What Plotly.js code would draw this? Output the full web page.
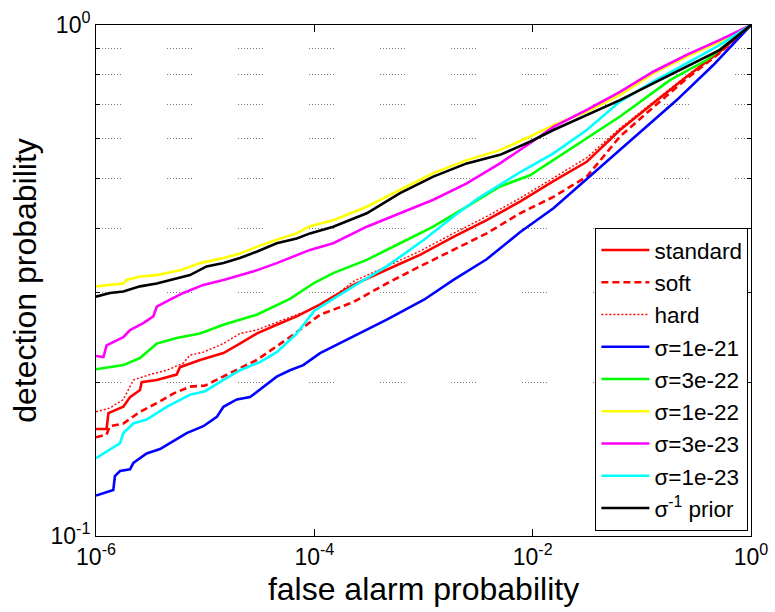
<!DOCTYPE html>
<html>
<head>
<meta charset="utf-8">
<script src="https://cdn.plot.ly/plotly-3.0.1.min.js"></script>
<style>html,body{margin:0;padding:0;background:#fff;}#chart{width:775px;height:612px;}</style>
</head>
<body>
<div id="chart"></div>
<script>
var seriesNames = ['standard', 'soft', 'hard', 'σ=1e-21', 'σ=3e-22', 'σ=1e-22', 'σ=3e-23', 'σ=1e-23', 'σ<sup>-1</sup> prior'];

// standard (red solid)
var standardX = [1e-6, 1.25e-6, 1.30e-6, 1.78e-6, 2.05e-6, 2.53e-6, 2.62e-6, 3.60e-6, 5.48e-6, 5.88e-6, 8.97e-6, 1.47e-5, 2.08e-5, 2.96e-5, 4.52e-5, 6.89e-5, 1.13e-4, 2.28e-4, 4.60e-4, 9.29e-4, 1.88e-3, 3.79e-3, 7.65e-3, 1.55e-2, 3.13e-2, 6.31e-2, 0.127, 0.257, 0.520, 1];
var standardY = [0.162, 0.162, 0.174, 0.179, 0.187, 0.193, 0.200, 0.202, 0.207, 0.214, 0.221, 0.228, 0.238, 0.249, 0.259, 0.269, 0.284, 0.310, 0.332, 0.355, 0.385, 0.415, 0.451, 0.495, 0.540, 0.623, 0.703, 0.792, 0.887, 1.0];

// soft (red dashed)
var softX = [1e-6, 1.25e-6, 1.34e-6, 1.78e-6, 2.53e-6, 3.60e-6, 5.10e-6, 7.26e-6, 1e-5, 1.47e-5, 2.96e-5, 5.98e-5, 1.13e-4, 2.28e-4, 4.60e-4, 9.29e-4, 1.88e-3, 3.79e-3, 7.65e-3, 1.55e-2, 3.13e-2, 6.31e-2, 0.127, 0.257, 0.520, 1];
var softY = [0.156, 0.158, 0.164, 0.166, 0.175, 0.182, 0.190, 0.196, 0.197, 0.205, 0.221, 0.245, 0.271, 0.287, 0.312, 0.337, 0.363, 0.391, 0.428, 0.461, 0.505, 0.605, 0.690, 0.785, 0.882, 1.0];

// hard (red dotted)
var hardX = [1e-6, 1.34e-6, 1.78e-6, 2.20e-6, 3.13e-6, 4.44e-6, 6.31e-6, 7.26e-6, 9.62e-6, 1.47e-5, 2.08e-5, 2.96e-5, 5.20e-5, 9.12e-5, 1.39e-4, 2.28e-4, 4.60e-4, 9.29e-4, 1.88e-3, 3.79e-3, 7.65e-3, 1.55e-2, 3.13e-2, 6.31e-2, 0.127, 0.257, 0.520, 1];
var hardY = [0.175, 0.178, 0.185, 0.202, 0.207, 0.211, 0.218, 0.226, 0.229, 0.238, 0.249, 0.253, 0.265, 0.277, 0.290, 0.315, 0.337, 0.361, 0.391, 0.422, 0.458, 0.503, 0.550, 0.628, 0.707, 0.795, 0.888, 1.0];

// sigma = 1e-21 (blue)
var sig1e21X = [1e-6, 1.44e-6, 1.49e-6, 1.66e-6, 2.05e-6, 2.20e-6, 2.91e-6, 3.86e-6, 4.76e-6, 6.77e-6, 9.62e-6, 1.28e-5, 1.47e-5, 1.95e-5, 2.58e-5, 3.41e-5, 4.52e-5, 5.98e-5, 7.92e-5, 1.13e-4, 4.61e-4, 1.01e-3, 1.88e-3, 3.79e-3, 7.65e-3, 1.55e-2, 3.13e-2, 4.44e-2, 0.1, 0.209, 0.452, 1];
var sig1e21Y = [0.120, 0.123, 0.131, 0.134, 0.135, 0.139, 0.145, 0.148, 0.152, 0.159, 0.164, 0.171, 0.179, 0.185, 0.187, 0.196, 0.205, 0.211, 0.216, 0.228, 0.265, 0.290, 0.317, 0.348, 0.393, 0.438, 0.500, 0.533, 0.620, 0.713, 0.835, 1.0];

// sigma = 3e-22 (green)
var sig3e22X = [1e-6, 1.78e-6, 2.53e-6, 3.60e-6, 5.48e-6, 8.97e-6, 1.47e-5, 2.96e-5, 5.98e-5, 1.0e-4, 1.49e-4, 3.02e-4, 6.10e-4, 1.23e-3, 2.49e-3, 5.02e-3, 9.45e-3, 1.91e-2, 6.31e-2, 0.181, 0.393, 1];
var sig3e22Y = [0.212, 0.216, 0.223, 0.238, 0.244, 0.249, 0.259, 0.271, 0.291, 0.313, 0.327, 0.347, 0.374, 0.403, 0.441, 0.483, 0.508, 0.561, 0.662, 0.780, 0.854, 1.0];

// sigma = 1e-22 (yellow)
var sig1e22X = [1e-6, 1.78e-6, 1.91e-6, 2.53e-6, 3.60e-6, 5.88e-6, 8.97e-6, 1.47e-5, 2.08e-5, 2.96e-5, 4.52e-5, 6.89e-5, 9.12e-5, 1.49e-4, 3.02e-4, 6.10e-4, 1.23e-3, 2.49e-3, 5.02e-3, 9.45e-3, 1.55e-2, 3.13e-2, 6.31e-2, 0.127, 0.257, 0.520, 1];
var sig1e22Y = [0.308, 0.312, 0.317, 0.322, 0.324, 0.331, 0.342, 0.350, 0.357, 0.368, 0.380, 0.391, 0.404, 0.415, 0.441, 0.475, 0.513, 0.544, 0.569, 0.605, 0.637, 0.677, 0.730, 0.804, 0.867, 0.928, 1.0];

// sigma = 3e-23 (magenta)
var sig3e23X = [1e-6, 1.17e-6, 1.25e-6, 1.55e-6, 1.78e-6, 2.05e-6, 2.71e-6, 3.35e-6, 3.60e-6, 4.76e-6, 6.31e-6, 9.62e-6, 1.47e-5, 2.96e-5, 4.52e-5, 9.12e-5, 1.49e-4, 3.02e-4, 6.10e-4, 1.23e-3, 2.49e-3, 5.02e-3, 9.45e-3, 1.55e-2, 3.13e-2, 6.31e-2, 0.127, 0.257, 0.520, 1];
var sig3e23Y = [0.225, 0.224, 0.236, 0.242, 0.245, 0.253, 0.261, 0.269, 0.281, 0.290, 0.299, 0.310, 0.317, 0.331, 0.342, 0.363, 0.374, 0.403, 0.428, 0.455, 0.490, 0.536, 0.587, 0.632, 0.682, 0.740, 0.810, 0.874, 0.935, 1.0];

// sigma = 1e-23 (cyan)
var sig1e23X = [1e-6, 1.34e-6, 1.66e-6, 1.78e-6, 2.20e-6, 2.91e-6, 4.44e-6, 7.26e-6, 1e-5, 1.47e-5, 2.08e-5, 3.18e-5, 4.52e-5, 6.89e-5, 1.0e-4, 2.28e-4, 4.60e-4, 1.01e-3, 1.88e-3, 3.16e-3, 7.65e-3, 1.55e-2, 3.13e-2, 6.31e-2, 0.127, 0.257, 0.520, 1];
var sig1e23Y = [0.142, 0.148, 0.152, 0.159, 0.166, 0.169, 0.179, 0.189, 0.192, 0.202, 0.211, 0.219, 0.229, 0.249, 0.276, 0.308, 0.337, 0.380, 0.422, 0.458, 0.515, 0.561, 0.623, 0.708, 0.775, 0.841, 0.914, 1.0];

// sigma^-1 prior (black)
var sigPriorX = [1e-6, 1.34e-6, 1.78e-6, 2.53e-6, 3.60e-6, 5.48e-6, 7.26e-6, 1.03e-5, 1.47e-5, 2.08e-5, 2.96e-5, 4.52e-5, 6.89e-5, 9.12e-5, 1.49e-4, 3.02e-4, 6.10e-4, 1.23e-3, 2.49e-3, 5.02e-3, 9.45e-3, 1.55e-2, 3.13e-2, 6.31e-2, 0.127, 0.257, 0.520, 1];
var sigPriorY = [0.294, 0.299, 0.301, 0.308, 0.312, 0.319, 0.324, 0.337, 0.342, 0.350, 0.360, 0.374, 0.382, 0.391, 0.403, 0.428, 0.469, 0.505, 0.536, 0.557, 0.591, 0.623, 0.667, 0.713, 0.769, 0.829, 0.894, 1.0];

var xTickVals = [1e-6, 1e-4, 1e-2, 1];
var xTickText = ['10<sup>-6</sup>', '10<sup>-4</sup>', '10<sup>-2</sup>', '10<sup>0</sup>'];
var yTickVals = [0.1, 1];
var yTickText = ['10<sup>-1</sup>', '10<sup>0</sup>'];
var yMinorVals = [0.2, 0.3, 0.4, 0.5, 0.6, 0.7, 0.8, 0.9];

var seriesX = [standardX, softX, hardX, sig1e21X, sig3e22X, sig1e22X, sig3e23X, sig1e23X, sigPriorX];
var seriesY = [standardY, softY, hardY, sig1e21Y, sig3e22Y, sig1e22Y, sig3e23Y, sig1e23Y, sigPriorY];
var colors = ['#ff0000', '#ff0000', '#ff0000', '#0000ff', '#00ff00', '#ffff00', '#ff00ff', '#00ffff', '#000000'];
var dashes = ['solid', '7px,4px', '2px,2px', 'solid', 'solid', 'solid', 'solid', 'solid', 'solid'];
var widths = [2.6, 2.6, 1.4, 2.6, 2.6, 2.6, 2.6, 2.6, 2.6];

var traces = seriesX.map(function (xs, i) {
  return {
    x: xs, y: seriesY[i], type: 'scatter', mode: 'lines', name: seriesNames[i],
    line: {color: colors[i], width: widths[i], dash: dashes[i]}
  };
});

var font = 'Liberation Sans, Arial, Helvetica, sans-serif';
var gridDash = '1px,2px,1px,2px,1px,2px,1px,2px,1px,2px,1px,2px,1px,2px,1px,2px,1px,46px';
var layout = {
  width: 775, height: 612,
  paper_bgcolor: '#ffffff', plot_bgcolor: '#ffffff',
  margin: {l: 96, r: 24, t: 25, b: 76},
  font: {family: font, size: 22, color: '#000'},
  showlegend: true,
  legend: {
    x: 0.996, xanchor: 'right', y: 0.01, yanchor: 'bottom',
    bgcolor: '#ffffff', bordercolor: '#000', borderwidth: 1,
    font: {family: font, size: 22.5, color: '#000'},
    itemwidth: 48, tracegroupgap: 0
  },
  xaxis: {
    type: 'log', range: [-6, 0],
    tickvals: xTickVals, ticktext: xTickText,
    ticks: 'inside', ticklen: 7, tickcolor: '#000',
    showline: true, linecolor: '#000', linewidth: 1, mirror: 'ticks',
    showgrid: false, zeroline: false,
    tickfont: {family: font, size: 23},
    title: {text: 'false alarm probability', font: {family: font, size: 32}, standoff: 9}
  },
  yaxis: {
    type: 'log', range: [-1, 0],
    tickvals: yTickVals, ticktext: yTickText,
    ticks: 'inside', ticklen: 7, tickcolor: '#000',
    showline: true, linecolor: '#000', linewidth: 1, mirror: 'ticks',
    showgrid: false, zeroline: false,
    tickfont: {family: font, size: 23},
    minor: {tickvals: yMinorVals, ticks: 'inside', ticklen: 4, tickcolor: '#000',
            showgrid: true, gridcolor: '#7a7a7a', gridwidth: 1, griddash: gridDash},
    title: {text: 'detection probability', font: {family: font, size: 32}, standoff: 4}
  }
};

Plotly.newPlot('chart', traces, layout, {displayModeBar: false, staticPlot: true});
</script>
</body>
</html>
